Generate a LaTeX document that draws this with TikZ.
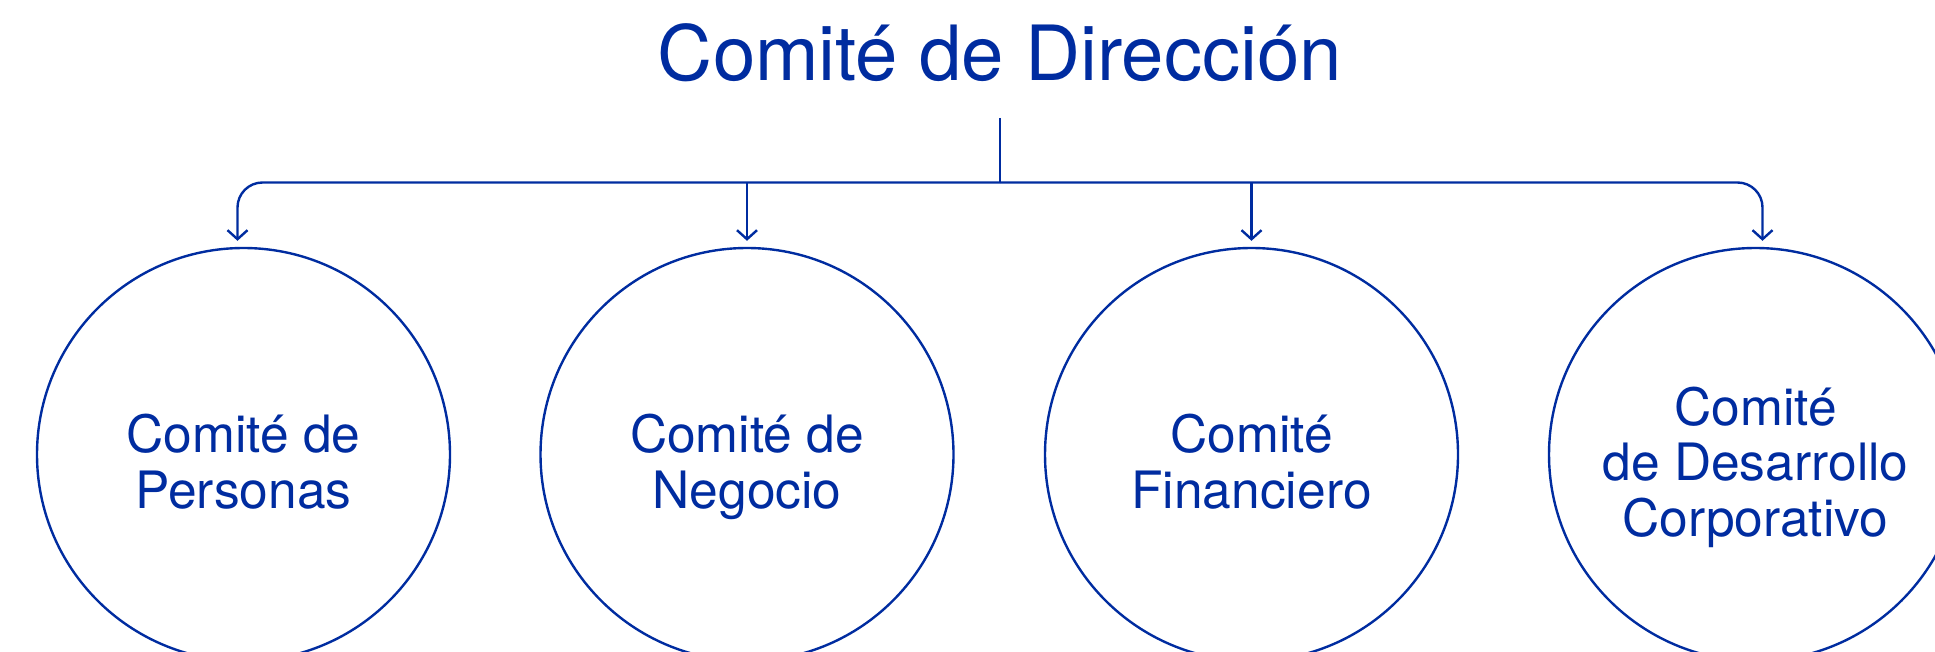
\documentclass[tikz,border=0pt]{standalone}
\usepackage{fontspec}
\setmainfont{TeX Gyre Heros}
\usetikzlibrary{arrows.meta}
\definecolor{navy}{RGB}{0,44,160}
\tikzset{
  line/.style={draw=navy, line width=2.4pt},
  arr/.style={line, -{Straight Barb[length=9pt,width=20pt,line width=2.4pt]}, shorten >=6pt},
  committee/.style={circle, draw=navy, line width=2.4pt, minimum size=413pt, inner sep=0pt},
  label/.style={text=navy, align=center, font=\fontsize{51.5}{55.5}\selectfont, inner sep=0pt, text depth=12pt},
}
\begin{document}
\begin{tikzpicture}[x=1pt,y=-1pt]
\useasboundingbox (0,0) rectangle (1935,652);
\node[text=navy, font=\fontsize{76.2}{80}\selectfont, anchor=base, inner sep=0pt] (title) at (1000,81) {Comité de Dirección};
\coordinate (stemtop) at (1000,118);
\coordinate (j) at (1000,182.5);
\node[committee] (c1) at (243.5,454.5) {};
\node[committee] (c2) at (747,454.5) {};
\node[committee] (c3) at (1251.5,454.5) {};
\node[committee] (c4) at (1755.5,454.5) {};
\node[label] (t1) at (243.5,467.5) {Comité de\\Personas};
\node[label] (t2) at (747,467.5) {Comité de\\Negocio};
\node[label] (t3) at (1251.5,467.5) {Comité\\Financiero};
\node[label] (t4) at (1755.5,467.5) {Comité\\de Desarrollo\\Corporativo};
\draw[line] (stemtop) -- (j);
\draw[arr, rounded corners=25pt] (j) -| ([xshift=-6pt]c1.north);
\draw[arr, rounded corners=25pt] (j) -| ([xshift=7pt]c4.north);
\draw[arr] (c2.north |- j) -- (c2.north);
\draw[arr] (c3.north |- j) -- (c3.north);
\end{tikzpicture}
\end{document}
